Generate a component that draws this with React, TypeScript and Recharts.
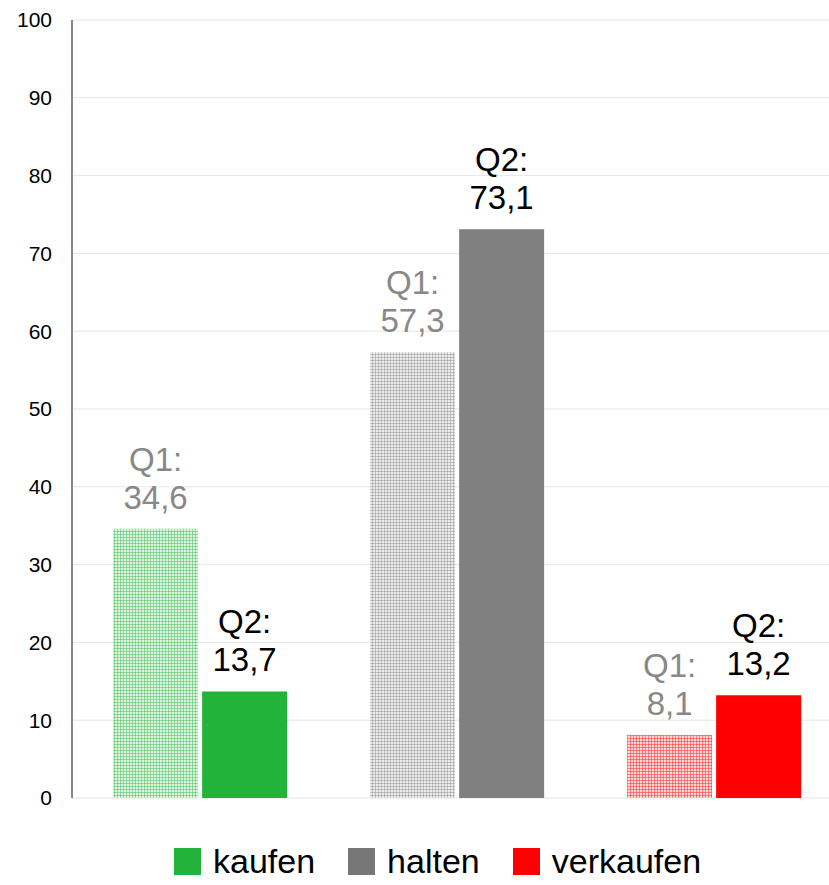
import React from 'react';
import { BarChart, Bar, XAxis, YAxis, CartesianGrid, Cell, LabelList, Legend } from 'recharts';

const categories = ['kaufen', 'halten', 'verkaufen'];
const q1Values = [34.6, 57.3, 8.1];
const q2Values = [13.7, 73.1, 13.2];
const colors = ['#22b33a', '#808080', '#ff0000'];
const legendColors = ['#22b33a', '#777777', '#ff0000'];
const yTicks = [0, 10, 20, 30, 40, 50, 60, 70, 80, 90, 100];

const data = categories.map((c, i) => ({ name: c, q1: q1Values[i], q2: q2Values[i] }));

const FONT = '"Liberation Sans", Arial, Helvetica, sans-serif';

const fmt = (v: number) => v.toFixed(1).replace('.', ',');

const makeLabel = (prefix: string, color: string) => (props: any) => {
  const { x, y, width, value } = props;
  const cx = x + width / 2;
  return (
    <text x={cx} y={y - 20} textAnchor="middle" fill={color} fontSize={33} fontFamily={FONT}>
      <tspan x={cx} dy={-38}>{prefix}</tspan>
      <tspan x={cx} dy={38}>{fmt(value)}</tspan>
    </text>
  );
};

const LegendContent = () => (
  <div style={{ height: 87, display: 'flex', alignItems: 'flex-end', justifyContent: 'flex-start', paddingLeft: 174, paddingBottom: 5, boxSizing: 'border-box', fontFamily: FONT }}>
    {categories.map((c, i) => (
      <div key={c} style={{ display: 'flex', alignItems: 'center', marginLeft: i === 0 ? 0 : 33 }}>
        <div style={{ width: 27, height: 27, background: legendColors[i], marginRight: 12 }} />
        <span style={{ fontSize: 34, lineHeight: '38px', color: '#000' }}>{c}</span>
      </div>
    ))}
  </div>
);

export default function App() {
  return (
    <div style={{ position: 'absolute', left: 0, top: 0, width: 829, height: 885, overflow: 'hidden', background: '#fff' }}>
      <BarChart
        width={843}
        height={885}
        data={data}
        margin={{ top: 20, right: 0, left: 0, bottom: 0 }}
        barCategoryGap="16%"
        barGap={4}
      >
        <defs>
          {colors.map((col, i) => (
            <pattern key={i} id={`pat-${i}`} width={3} height={3} patternUnits="userSpaceOnUse">
              <rect x={0} y={0} width={3} height={3} fill="#ffffff" />
              <rect x={0} y={0} width={3} height={3} fill={col} fillOpacity={0.15} />
              <rect x={0} y={0} width={3} height={1} fill={col} fillOpacity={0.4} />
              <rect x={0} y={0} width={1} height={3} fill={col} fillOpacity={0.4} />
            </pattern>
          ))}
        </defs>
        <CartesianGrid vertical={false} stroke="#e6e6e6" strokeWidth={1} />
        <XAxis dataKey="name" tick={false} tickLine={false} height={0} axisLine={{ stroke: '#d9d9d9', strokeWidth: 3 }} />
        <YAxis
          domain={[0, 100]}
          ticks={yTicks}
          width={72}
          tickLine={false}
          tickSize={0}
          tickMargin={20}
          axisLine={{ stroke: '#888888', strokeWidth: 2 }}
          tick={{ fill: '#000', fontSize: 21, fontFamily: FONT }}
        />
        <Legend verticalAlign="bottom" content={<LegendContent />} />
        <Bar dataKey="q1" isAnimationActive={false}>
          {data.map((d, i) => (
            <Cell key={d.name} fill={`url(#pat-${i})`} />
          ))}
          <LabelList dataKey="q1" content={makeLabel('Q1:', '#888888')} />
        </Bar>
        <Bar dataKey="q2" isAnimationActive={false}>
          {data.map((d, i) => (
            <Cell key={d.name} fill={colors[i]} />
          ))}
          <LabelList dataKey="q2" content={makeLabel('Q2:', '#000000')} />
        </Bar>
      </BarChart>
    </div>
  );
}
